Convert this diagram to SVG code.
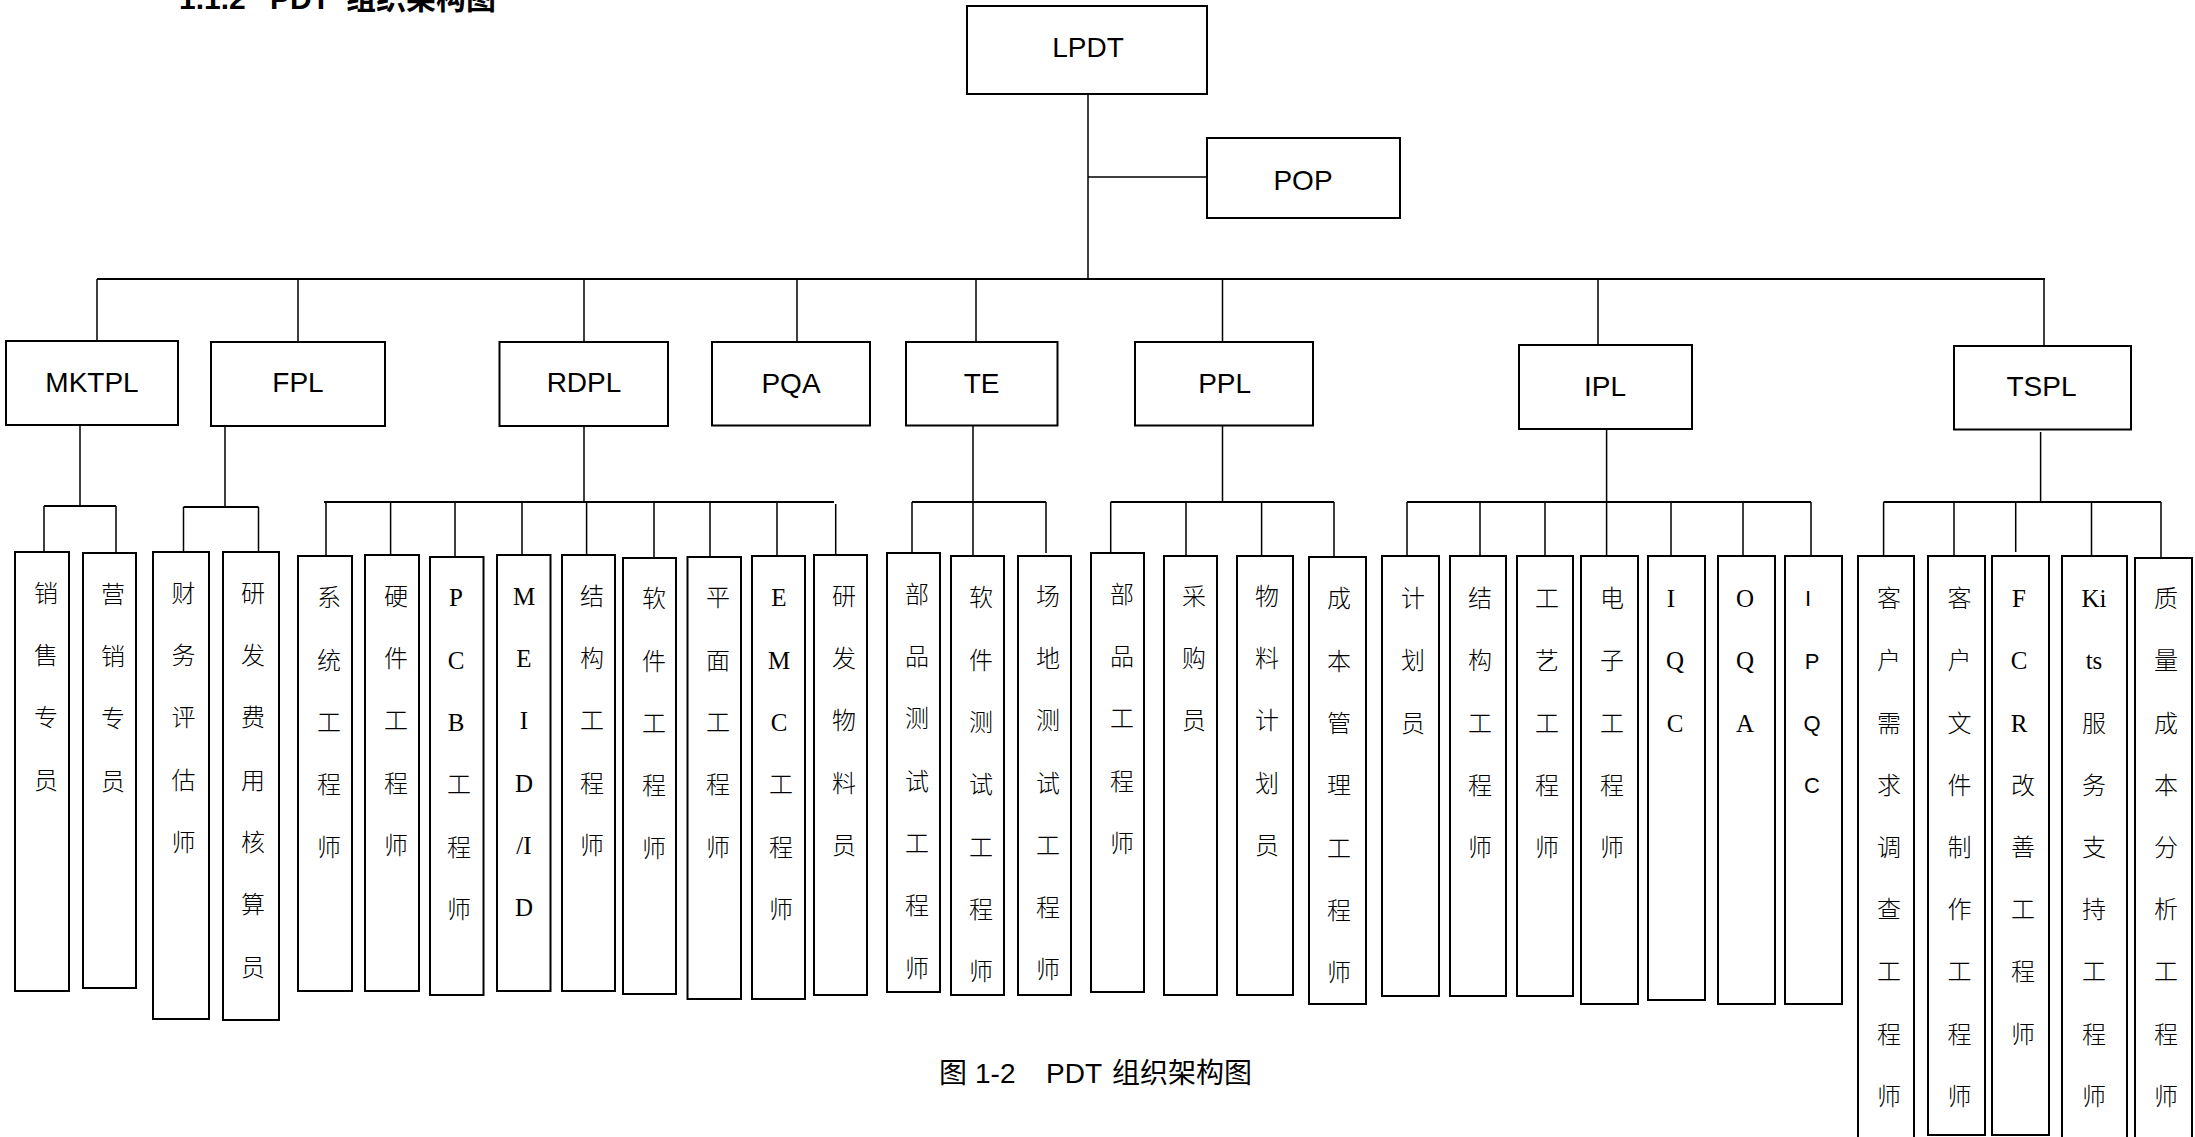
<svg xmlns="http://www.w3.org/2000/svg" width="2195" height="1137" viewBox="0 0 2195 1137">
<style>
.box{fill:#fff;stroke:#000;stroke-width:2}
.ln{stroke:#000;stroke-width:1.5;fill:none}
.bus{stroke:#000;stroke-width:2.2;fill:none}
.lbl{font-family:"Liberation Sans",Arial,sans-serif;font-size:28px;text-anchor:middle;fill:#000}
.vt{font-family:"Liberation Serif","Noto Sans CJK SC",serif;font-size:24px;font-weight:300;text-anchor:middle;fill:#000}
.vs{font-family:"Liberation Sans","Noto Sans CJK SC",sans-serif;font-size:22px;text-anchor:middle;fill:#000}
.L{font-size:25px;font-weight:normal}
.ttl{font-family:"Liberation Sans","Noto Sans CJK SC",sans-serif;font-size:30px;font-weight:bold;fill:#000}
.cap{font-family:"Liberation Sans","Noto Sans CJK SC",sans-serif;font-size:28px;fill:#000}
</style>
<rect width="2195" height="1137" fill="#fff"/>
<text class="ttl" y="9"><tspan x="179">1.1.2</tspan><tspan x="270">PDT</tspan><tspan x="346">组织架构图</tspan></text>

<g id="connectors">
<path class="ln" d="M1088 94V280M1088 177H1207"/>
<path class="bus" d="M97 279H2045"/>
<path class="ln" d="M97 279V341M298 279V342M584 279V342M797 279V342M976 279V342M1222.5 279V342M1598 279V345M2044 279V346"/>
<path class="ln" d="M80 425V506M44 506V552M116 506V553"/>
<path class="bus" d="M44 506H116"/>
<path class="ln" d="M225 426V507M183.5 507V552M258.5 507V552"/>
<path class="bus" d="M183.5 507H258.5"/>
<path class="ln" d="M584 426V502M326 502V556M390.6 502V555M455 502V557M522 502V555M586.6 502V555M654 502V558M710 502V557M777 502V556M835.7 504V555"/>
<path class="bus" d="M324 502H834"/>
<path class="ln" d="M973 426V502M912 502V553M973 502V556M1046 502V553"/>
<path class="bus" d="M912 502H1046"/>
<path class="ln" d="M1222.5 426V502M1110.7 502V553M1186 502V556M1261.6 502V556M1334 502V557"/>
<path class="bus" d="M1110.7 502H1334"/>
<path class="ln" d="M1606.6 429V502M1407 502V556M1480 502V556M1545 502V556M1606.6 502V556M1671 502V556M1743 502V556M1811 502V556"/>
<path class="bus" d="M1407 502H1811"/>
<path class="ln" d="M2040.6 432V502M1883.6 502V556M1954 502V556M2015.7 502V552M2091.5 502V556M2161 502V558"/>
<path class="bus" d="M1883.6 502H2161"/>
</g>

<g id="LPDT"><rect class="box" x="967" y="6" width="240" height="88"/><text class="lbl" x="1088" y="57">LPDT</text></g>
<g id="POP"><rect class="box" x="1207" y="138" width="193" height="80"/><text class="lbl" x="1303" y="190">POP</text></g>

<g id="MKTPL"><rect class="box" x="6" y="341" width="172" height="84"/><text class="lbl" x="92" y="392">MKTPL</text></g>
<g id="FPL"><rect class="box" x="211" y="342" width="174" height="84"/><text class="lbl" x="298" y="392">FPL</text></g>
<g id="RDPL"><rect class="box" x="499.5" y="342" width="168.5" height="84"/><text class="lbl" x="584" y="392">RDPL</text></g>
<g id="PQA"><rect class="box" x="712" y="342" width="158" height="83.5"/><text class="lbl" x="791" y="393">PQA</text></g>
<g id="TE"><rect class="box" x="906" y="342" width="151.5" height="83.5"/><text class="lbl" x="981.6" y="393">TE</text></g>
<g id="PPL"><rect class="box" x="1135" y="342" width="178" height="83.5"/><text class="lbl" x="1224.6" y="393">PPL</text></g>
<g id="IPL"><rect class="box" x="1519" y="345" width="173" height="84"/><text class="lbl" x="1605" y="396">IPL</text></g>
<g id="TSPL"><rect class="box" x="1954" y="346" width="177" height="83.5"/><text class="lbl" x="2041.5" y="396">TSPL</text></g>

<g id="sales"><rect class="box" x="15" y="552" width="54" height="439"/><text class="vt"><tspan x="46" y="602">销</tspan><tspan x="46" y="664">售</tspan><tspan x="46" y="726">专</tspan><tspan x="46" y="789">员</tspan></text></g>
<g id="marketing"><rect class="box" x="83" y="553" width="53" height="435"/><text class="vt"><tspan x="113" y="603">营</tspan><tspan x="113" y="665">销</tspan><tspan x="113" y="727">专</tspan><tspan x="113" y="790">员</tspan></text></g>
<g id="finance"><rect class="box" x="153" y="552" width="56" height="467"/><text class="vt"><tspan x="183.5" y="602">财</tspan><tspan x="183.5" y="664">务</tspan><tspan x="183.5" y="726">评</tspan><tspan x="183.5" y="789">估</tspan><tspan x="183.5" y="851">师</tspan></text></g>
<g id="rdcost"><rect class="box" x="223" y="552" width="56" height="468"/><text class="vt"><tspan x="253" y="602">研</tspan><tspan x="253" y="664">发</tspan><tspan x="253" y="726">费</tspan><tspan x="253" y="789">用</tspan><tspan x="253" y="851">核</tspan><tspan x="253" y="913">算</tspan><tspan x="253" y="976">员</tspan></text></g>

<g id="sys"><rect class="box" x="298" y="556" width="54" height="435"/><text class="vt"><tspan x="329" y="606">系</tspan><tspan x="329" y="669">统</tspan><tspan x="329" y="731">工</tspan><tspan x="329" y="793">程</tspan><tspan x="329" y="856">师</tspan></text></g>
<g id="hw"><rect class="box" x="365" y="555" width="54" height="436"/><text class="vt"><tspan x="396" y="605">硬</tspan><tspan x="396" y="667">件</tspan><tspan x="396" y="729">工</tspan><tspan x="396" y="792">程</tspan><tspan x="396" y="854">师</tspan></text></g>
<g id="pcb"><rect class="box" x="430" y="557" width="53.5" height="438"/><text class="vt"><tspan class="L" x="456" y="606">P</tspan><tspan class="L" x="456" y="669">C</tspan><tspan class="L" x="456" y="731">B</tspan><tspan x="459" y="793">工</tspan><tspan x="459" y="856">程</tspan><tspan x="459" y="918">师</tspan></text></g>
<g id="meid"><rect class="box" x="497" y="555" width="53.5" height="436"/><text class="vt"><tspan class="L" x="524" y="605">M</tspan><tspan class="L" x="524" y="667">E</tspan><tspan class="L" x="524" y="729">I</tspan><tspan class="L" x="524" y="792">D</tspan><tspan class="L" x="524" y="854">/I</tspan><tspan class="L" x="524" y="916">D</tspan></text></g>
<g id="mech"><rect class="box" x="562" y="555" width="53" height="436"/><text class="vt"><tspan x="592" y="605">结</tspan><tspan x="592" y="667">构</tspan><tspan x="592" y="729">工</tspan><tspan x="592" y="792">程</tspan><tspan x="592" y="854">师</tspan></text></g>
<g id="sw"><rect class="box" x="623" y="558" width="53" height="436"/><text class="vt"><tspan x="654" y="607">软</tspan><tspan x="654" y="670">件</tspan><tspan x="654" y="732">工</tspan><tspan x="654" y="794">程</tspan><tspan x="654" y="857">师</tspan></text></g>
<g id="graphic"><rect class="box" x="687.5" y="557" width="53.5" height="442"/><text class="vt"><tspan x="718" y="606">平</tspan><tspan x="718" y="669">面</tspan><tspan x="718" y="731">工</tspan><tspan x="718" y="793">程</tspan><tspan x="718" y="856">师</tspan></text></g>
<g id="emc"><rect class="box" x="752" y="556" width="53" height="443"/><text class="vt"><tspan class="L" x="779" y="606">E</tspan><tspan class="L" x="779" y="669">M</tspan><tspan class="L" x="779" y="731">C</tspan><tspan x="781" y="793">工</tspan><tspan x="781" y="856">程</tspan><tspan x="781" y="918">师</tspan></text></g>
<g id="rdmat"><rect class="box" x="814" y="555" width="53" height="440"/><text class="vt"><tspan x="844" y="605">研</tspan><tspan x="844" y="667">发</tspan><tspan x="844" y="729">物</tspan><tspan x="844" y="792">料</tspan><tspan x="844" y="854">员</tspan></text></g>

<g id="parttest"><rect class="box" x="887" y="553" width="53" height="439"/><text class="vt"><tspan x="917" y="603">部</tspan><tspan x="917" y="665">品</tspan><tspan x="917" y="727">测</tspan><tspan x="917" y="790">试</tspan><tspan x="917" y="852">工</tspan><tspan x="917" y="914">程</tspan><tspan x="917" y="977">师</tspan></text></g>
<g id="swtest"><rect class="box" x="951" y="556" width="53" height="439"/><text class="vt"><tspan x="981" y="606">软</tspan><tspan x="981" y="669">件</tspan><tspan x="981" y="731">测</tspan><tspan x="981" y="793">试</tspan><tspan x="981" y="856">工</tspan><tspan x="981" y="918">程</tspan><tspan x="981" y="980">师</tspan></text></g>
<g id="fieldtest"><rect class="box" x="1018" y="556" width="53" height="439"/><text class="vt"><tspan x="1048" y="605">场</tspan><tspan x="1048" y="667">地</tspan><tspan x="1048" y="729">测</tspan><tspan x="1048" y="792">试</tspan><tspan x="1048" y="854">工</tspan><tspan x="1048" y="916">程</tspan><tspan x="1048" y="978">师</tspan></text></g>

<g id="parteng"><rect class="box" x="1091" y="553" width="53" height="439"/><text class="vt"><tspan x="1122" y="603">部</tspan><tspan x="1122" y="665">品</tspan><tspan x="1122" y="727">工</tspan><tspan x="1122" y="790">程</tspan><tspan x="1122" y="852">师</tspan></text></g>
<g id="buyer"><rect class="box" x="1164" y="556" width="53" height="439"/><text class="vt"><tspan x="1194" y="605">采</tspan><tspan x="1194" y="667">购</tspan><tspan x="1194" y="729">员</tspan></text></g>
<g id="mplan"><rect class="box" x="1237" y="556" width="56" height="439"/><text class="vt"><tspan x="1267" y="605">物</tspan><tspan x="1267" y="667">料</tspan><tspan x="1267" y="729">计</tspan><tspan x="1267" y="792">划</tspan><tspan x="1267" y="854">员</tspan></text></g>
<g id="costmgr"><rect class="box" x="1309" y="557" width="57" height="447"/><text class="vt"><tspan x="1339" y="607">成</tspan><tspan x="1339" y="670">本</tspan><tspan x="1339" y="732">管</tspan><tspan x="1339" y="794">理</tspan><tspan x="1339" y="857">工</tspan><tspan x="1339" y="919">程</tspan><tspan x="1339" y="981">师</tspan></text></g>

<g id="planner"><rect class="box" x="1382" y="556" width="57" height="440"/><text class="vt"><tspan x="1413" y="607">计</tspan><tspan x="1413" y="669">划</tspan><tspan x="1413" y="732">员</tspan></text></g>
<g id="mech2"><rect class="box" x="1450" y="556" width="56" height="440"/><text class="vt"><tspan x="1480" y="607">结</tspan><tspan x="1480" y="669">构</tspan><tspan x="1480" y="732">工</tspan><tspan x="1480" y="794">程</tspan><tspan x="1480" y="856">师</tspan></text></g>
<g id="process"><rect class="box" x="1517" y="556" width="56" height="440"/><text class="vt"><tspan x="1547" y="607">工</tspan><tspan x="1547" y="669">艺</tspan><tspan x="1547" y="732">工</tspan><tspan x="1547" y="794">程</tspan><tspan x="1547" y="856">师</tspan></text></g>
<g id="elec"><rect class="box" x="1581" y="556" width="57" height="448"/><text class="vt"><tspan x="1612" y="607">电</tspan><tspan x="1612" y="669">子</tspan><tspan x="1612" y="732">工</tspan><tspan x="1612" y="794">程</tspan><tspan x="1612" y="856">师</tspan></text></g>
<g id="iqc"><rect class="box" x="1648" y="556" width="57" height="444"/><text class="vt"><tspan class="L" x="1671" y="607">I</tspan><tspan class="L" x="1675" y="669">Q</tspan><tspan class="L" x="1675" y="732">C</tspan></text></g>
<g id="oqa"><rect class="box" x="1718" y="556" width="57" height="448"/><text class="vt"><tspan class="L" x="1745" y="607">O</tspan><tspan class="L" x="1745" y="669">Q</tspan><tspan class="L" x="1745" y="732">A</tspan></text></g>
<g id="ipqc"><rect class="box" x="1785" y="556" width="57" height="448"/><text class="vs"><tspan x="1808" y="606">I</tspan><tspan x="1812" y="669">P</tspan><tspan x="1812" y="731">Q</tspan><tspan x="1812" y="793">C</tspan></text></g>

<g id="custreq"><rect class="box" x="1858" y="556" width="56" height="600"/><text class="vt"><tspan x="1889" y="607">客</tspan><tspan x="1889" y="669">户</tspan><tspan x="1889" y="732">需</tspan><tspan x="1889" y="794">求</tspan><tspan x="1889" y="856">调</tspan><tspan x="1889" y="918">查</tspan><tspan x="1889" y="980">工</tspan><tspan x="1889" y="1043">程</tspan><tspan x="1889" y="1105">师</tspan></text></g>
<g id="custdoc"><rect class="box" x="1928" y="556" width="57" height="579"/><text class="vt"><tspan x="1959.5" y="607">客</tspan><tspan x="1959.5" y="669">户</tspan><tspan x="1959.5" y="732">文</tspan><tspan x="1959.5" y="794">件</tspan><tspan x="1959.5" y="856">制</tspan><tspan x="1959.5" y="918">作</tspan><tspan x="1959.5" y="980">工</tspan><tspan x="1959.5" y="1043">程</tspan><tspan x="1959.5" y="1105">师</tspan></text></g>
<g id="fcr"><rect class="box" x="1992" y="556" width="57" height="579"/><text class="vt"><tspan class="L" x="2019" y="607">F</tspan><tspan class="L" x="2019" y="669">C</tspan><tspan class="L" x="2019" y="732">R</tspan><tspan x="2023" y="794">改</tspan><tspan x="2023" y="856">善</tspan><tspan x="2023" y="918">工</tspan><tspan x="2023" y="980">程</tspan><tspan x="2023" y="1043">师</tspan></text></g>
<g id="kits"><rect class="box" x="2062" y="556" width="65" height="600"/><text class="vt"><tspan class="L" x="2094" y="607">Ki</tspan><tspan class="L" x="2094" y="669">ts</tspan><tspan x="2094" y="732">服</tspan><tspan x="2094" y="794">务</tspan><tspan x="2094" y="856">支</tspan><tspan x="2094" y="918">持</tspan><tspan x="2094" y="980">工</tspan><tspan x="2094" y="1043">程</tspan><tspan x="2094" y="1105">师</tspan></text></g>
<g id="qcost"><rect class="box" x="2135" y="558" width="57" height="600"/><text class="vt"><tspan x="2166" y="607">质</tspan><tspan x="2166" y="669">量</tspan><tspan x="2166" y="732">成</tspan><tspan x="2166" y="794">本</tspan><tspan x="2166" y="856">分</tspan><tspan x="2166" y="918">析</tspan><tspan x="2166" y="980">工</tspan><tspan x="2166" y="1043">程</tspan><tspan x="2166" y="1105">师</tspan></text></g>

<text class="cap" y="1083"><tspan x="939">图</tspan><tspan x="975">1-2</tspan><tspan x="1046">PDT</tspan><tspan x="1112">组织架构图</tspan></text>
</svg>
